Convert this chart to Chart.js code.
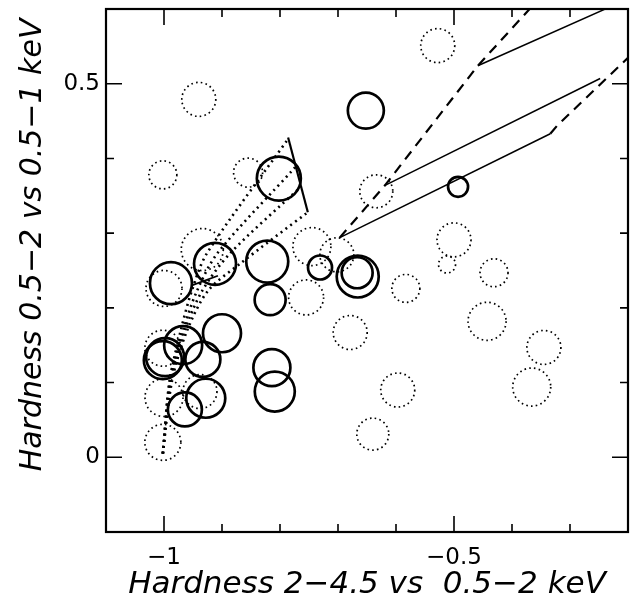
<!DOCTYPE html>
<html>
<head>
<meta charset="utf-8">
<script src="https://cdn.jsdelivr.net/npm/chart.js@4/dist/chart.umd.min.js"></script>
<style>
  html, body { margin: 0; padding: 0; background: #fff; }
</style>
</head>
<body>
<canvas id="c" width="633" height="604"></canvas>
<script>
// axis ranges and tick marks
const xTickMarks = [-1.0, -0.9, -0.8, -0.7, -0.6, -0.5, -0.4, -0.3];
const yTickMarks = [0.0, 0.1, 0.2, 0.3, 0.4, 0.5];
const xLabelTicks = [-1.0, -0.5];
const yLabelTicks = [0.0, 0.5];

// solid circles
const solidX = [-0.652, -0.493, -0.802, -0.988, -0.912, -0.822, -0.817, -0.731, -0.666, -0.667,
                -0.900, -0.967, -1.002, -0.998, -0.933, -0.814, -0.809, -0.928, -0.964];
const solidY = [0.464, 0.362, 0.373, 0.233, 0.259, 0.262, 0.211, 0.254, 0.242, 0.247,
                0.166, 0.150, 0.130, 0.134, 0.131, 0.120, 0.088, 0.079, 0.064];
const solidR = [18, 10, 22, 21, 21, 21, 15.5, 12, 21, 15.5, 19, 19, 19, 19, 17.5, 18.5, 20, 19.5, 17];

// dotted circles
const dotX = [-0.528, -0.940, -1.002, -0.855, -0.634, -0.745, -0.702, -0.755, -0.679, -0.500,
              -0.512, -0.431, -0.583, -0.443, -0.345, -0.366, -0.597, -0.640, -1.000, -0.934,
              -1.000, -1.002, -1.002, -0.938];
const dotY = [0.551, 0.479, 0.378, 0.381, 0.356, 0.282, 0.271, 0.214, 0.167, 0.291,
              0.258, 0.247, 0.226, 0.182, 0.147, 0.094, 0.090, 0.031, 0.226, 0.278,
              0.080, 0.020, 0.146, 0.088];
const dotR = [17, 17, 14, 14.5, 16.5, 19, 17, 17.5, 17, 17,
              8.5, 14, 14, 19, 17, 19, 17, 16, 18, 21,
              19, 18, 18, 17];

// model tracks
const dashAX = [-0.697, -0.619, -0.459, -0.372, -0.340];
const dashAY = [0.294, 0.364, 0.524, 0.598, 0.625];
const dashBX = [-0.334, -0.322, -0.197, -0.180];
const dashBY = [0.433, 0.444, 0.537, 0.555];
const solidAX = [-0.619, -0.248];
const solidAY = [0.364, 0.507];
const solidBX = [-0.697, -0.334];
const solidBY = [0.294, 0.433];
const solidCX = [-0.459, -0.190];
const solidCY = [0.524, 0.617];
const solidDX = [-0.786, -0.752];
const solidDY = [0.428, 0.328];
const solidEX = [-0.952, -0.907];
const solidEY = [0.230, 0.243];

const fan1X = [-1.002, -0.990, -0.971, -0.952, -0.926, -0.786];
const fan1Y = [0.005, 0.103, 0.170, 0.223, 0.273, 0.426];
const fan2X = [-1.002, -0.990, -0.967, -0.943, -0.907, -0.774];
const fan2Y = [0.005, 0.103, 0.170, 0.223, 0.274, 0.388];
const fan3X = [-1.002, -0.988, -0.964, -0.934, -0.886, -0.764];
const fan3Y = [0.005, 0.103, 0.170, 0.223, 0.273, 0.362];
const fan4X = [-1.002, -0.986, -0.960, -0.924, -0.869, -0.752];
const fan4Y = [0.005, 0.103, 0.170, 0.223, 0.259, 0.328];

const pts = (xs, ys) => xs.map((x, i) => ({x: x, y: ys[i]}));
const bubbles = (xs, ys, rs) => xs.map((x, i) => ({x: x, y: ys[i], r: rs[i]}));

function track(xs, ys, width, dash, tension) {
    return {
        type: 'line',
        data: pts(xs, ys),
        borderColor: '#000',
        borderWidth: width,
        borderDash: dash,
        pointRadius: 0,
        fill: false,
        tension: tension || 0
    };
}

// dotted bubble borders + framed box with inward ticks
const framePlugin = {
    id: 'frame',
    beforeDatasetDraw(chart, args) {
        const ds = chart.data.datasets[args.index];
        if (ds.dotted) chart.ctx.setLineDash([1.6, 3.2]);
    },
    afterDatasetDraw(chart) {
        chart.ctx.setLineDash([]);
    },
    afterDatasetsDraw(chart) {
        const {ctx, chartArea: a, scales: {x, y}} = chart;
        ctx.save();
        ctx.strokeStyle = '#000';
        ctx.lineWidth = 2.2;
        ctx.strokeRect(a.left, a.top, a.right - a.left, a.bottom - a.top);
        ctx.lineWidth = 1.6;
        ctx.beginPath();
        xTickMarks.forEach(v => {
            const p = x.getPixelForValue(v);
            const len = xLabelTicks.includes(v) ? 16 : 8;
            ctx.moveTo(p, a.bottom); ctx.lineTo(p, a.bottom - len);
            ctx.moveTo(p, a.top); ctx.lineTo(p, a.top + len);
        });
        yTickMarks.forEach(v => {
            const p = y.getPixelForValue(v);
            const len = yLabelTicks.includes(v) ? 16 : 8;
            ctx.moveTo(a.left, p); ctx.lineTo(a.left + len, p);
            ctx.moveTo(a.right, p); ctx.lineTo(a.right - len, p);
        });
        ctx.stroke();
        ctx.restore();
    }
};

const fmt = v => String(v).replace('-', '\u2212');
const noPad = s => { s.paddingTop = 0; s.paddingBottom = 0; s.paddingLeft = 0; s.paddingRight = 0; };

new Chart(document.getElementById('c'), {
    type: 'bubble',
    data: {
        datasets: [
            {
                data: bubbles(solidX, solidY, solidR),
                borderColor: '#000',
                backgroundColor: 'rgba(0,0,0,0)',
                borderWidth: 2.7
            },
            {
                data: bubbles(dotX, dotY, dotR),
                dotted: true,
                borderColor: '#000',
                backgroundColor: 'rgba(0,0,0,0)',
                borderWidth: 1.7
            },
            track(dashAX, dashAY, 2.2, [10, 7]),
            track(dashBX, dashBY, 2.2, [10, 7]),
            track(solidAX, solidAY, 1.5, []),
            track(solidBX, solidBY, 1.5, []),
            track(solidCX, solidCY, 1.5, []),
            track(solidDX, solidDY, 2.2, []),
            track(solidEX, solidEY, 1.8, []),
            track(fan1X, fan1Y, 2.6, [2, 4], 0.3),
            track(fan2X, fan2Y, 2.6, [2, 4], 0.3),
            track(fan3X, fan3Y, 2.6, [2, 4], 0.3),
            track(fan4X, fan4Y, 2.6, [2, 4], 0.3)
        ]
    },
    options: {
        responsive: false,
        animation: false,
        events: [],
        layout: { autoPadding: false, padding: { top: 9, right: 5, left: 0, bottom: 0 } },
        plugins: { legend: { display: false }, tooltip: { enabled: false } },
        scales: {
            x: {
                type: 'linear',
                min: -1.1,
                max: -0.2,
                grid: { display: false, drawTicks: false },
                border: { display: false },
                afterBuildTicks: s => { s.ticks = xLabelTicks.map(v => ({value: v})); },
                afterFit: s => { s.height = 72; noPad(s); },
                ticks: {
                    padding: 12,
                    color: '#000',
                    font: { family: 'DejaVu Sans', size: 23 },
                    callback: v => fmt(v)
                },
                title: {
                    display: true,
                    text: 'Hardness 2\u22124.5 vs  0.5\u22122 keV',
                    color: '#000',
                    font: { family: 'DejaVu Sans', size: 31, style: 'italic' },
                    padding: { top: 0, bottom: 0 }
                }
            },
            y: {
                type: 'linear',
                min: -0.1,
                max: 0.6,
                grid: { display: false, drawTicks: false },
                border: { display: false },
                afterBuildTicks: s => { s.ticks = yLabelTicks.map(v => ({value: v})); },
                afterFit: s => { s.width = 106; noPad(s); },
                ticks: {
                    padding: 6,
                    color: '#000',
                    font: { family: 'DejaVu Sans', size: 23 },
                    callback: v => fmt(v)
                },
                title: {
                    display: true,
                    align: 'end',
                    text: 'Hardness 0.5\u22122 vs 0.5\u22121 keV ',
                    color: '#000',
                    font: { family: 'DejaVu Sans', size: 30, style: 'italic' },
                    padding: { top: 15, bottom: 0 }
                }
            }
        }
    },
    plugins: [framePlugin]
});
</script>
</body>
</html>
